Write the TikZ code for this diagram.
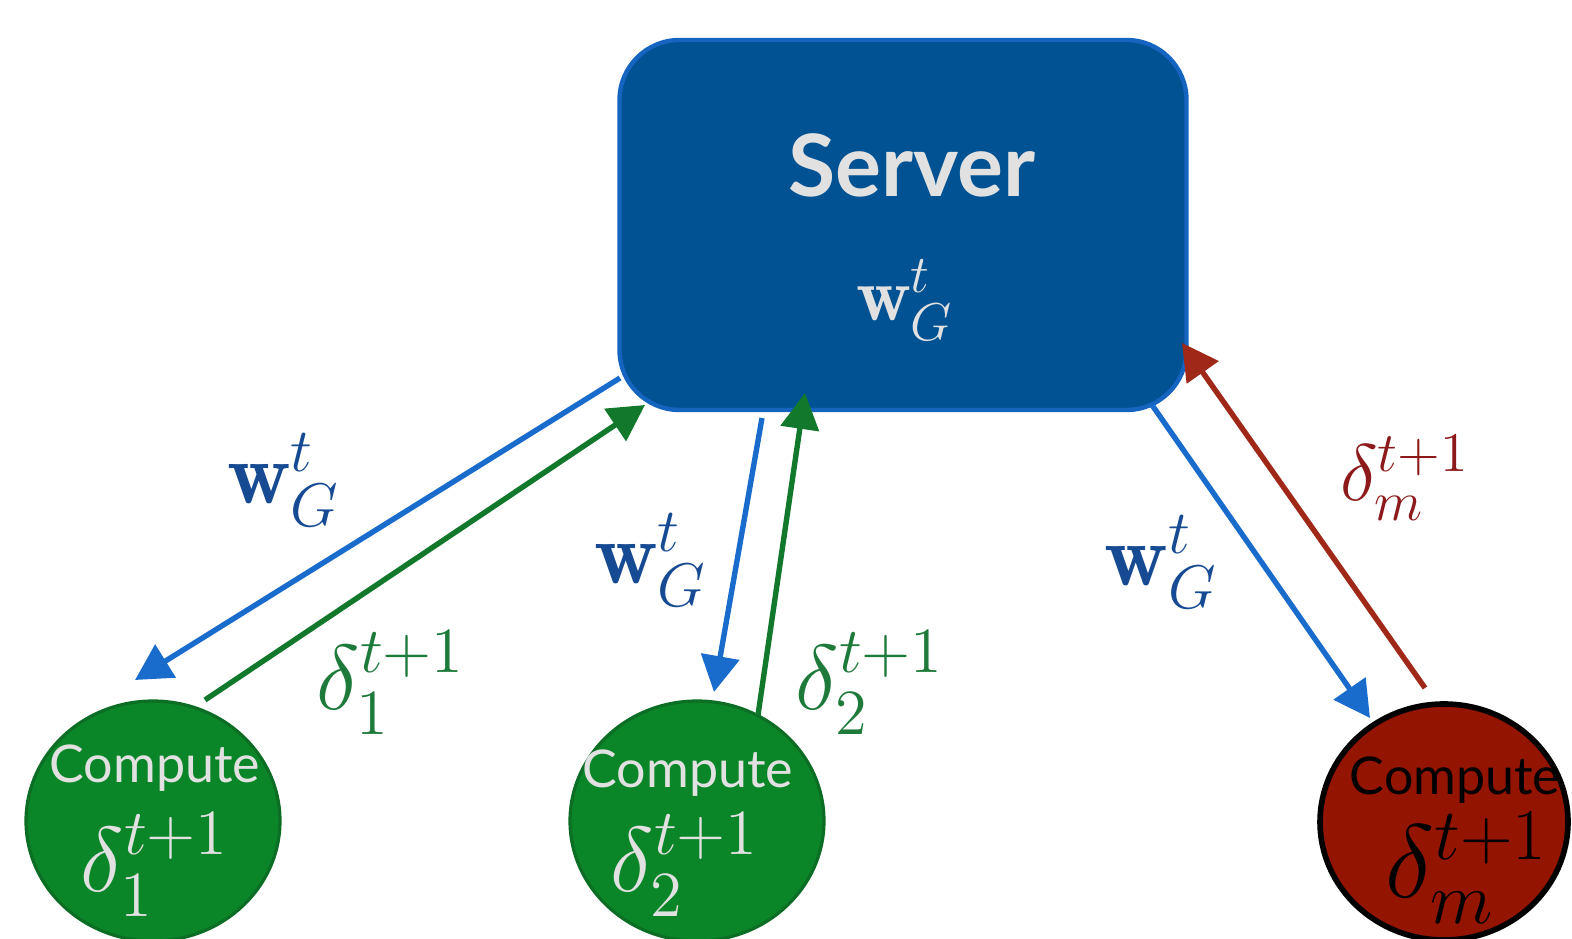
\RequirePackage{fix-cm}
\documentclass[tikz,border=0pt]{standalone}
\usepackage{amsmath,bm}
\usepackage{fontspec}
\setsansfont{Lato}
\usetikzlibrary{arrows.meta,shapes.geometric}
\definecolor{srvfill}{RGB}{1,82,147}
\definecolor{srvline}{RGB}{21,101,192}
\definecolor{arrblue}{RGB}{26,108,204}
\definecolor{lblblue}{RGB}{22,74,146}
\definecolor{grnfill}{RGB}{10,134,40}
\definecolor{grnline}{RGB}{12,110,36}
\definecolor{arrgreen}{RGB}{18,120,44}
\definecolor{lblgreen}{RGB}{30,122,58}
\definecolor{redfill}{RGB}{147,20,0}
\definecolor{arrred}{RGB}{160,40,24}
\definecolor{lblred}{RGB}{140,26,26}
\definecolor{lighttxt}{RGB}{225,225,225}
\begin{document}
\begin{tikzpicture}[x=0.25pt,y=-0.25pt,
  serverbox/.style={draw=srvline,line width=1.1pt,fill=srvfill,rounded corners=15pt,
    minimum width=141.75pt,minimum height=92.5pt,inner sep=0pt},
  greencirc/.style={ellipse,draw=grnline,line width=0.8pt,fill=grnfill,
    minimum width=63.5pt,minimum height=60pt,inner sep=0pt},
  redcirc/.style={ellipse,draw=black,line width=1.4pt,fill=redfill,
    minimum width=62pt,minimum height=59pt,inner sep=0pt},
  conn/.style={line width=1.35pt,-{Triangle[length=9pt,width=9.5pt]}},
  lbl/.style={inner sep=0pt,font=\fontsize{22}{26}\selectfont},
  intxt/.style={inner sep=0pt,text=lighttxt}
]
\useasboundingbox (0,0) rectangle (1572,939);

% nodes
\node[serverbox] (server) at (903,225) {};
\node[greencirc] (c1) at (153,821) {};
\node[greencirc] (c2) at (697,821) {};
\node[redcirc] (c3) at (1444,822) {};

% server text
\node[intxt,font=\sffamily\bfseries\fontsize{21.5}{26}\selectfont] (srvname) at (912,165) {Server};
\node[intxt,font=\fontsize{19}{23}\selectfont] (srvw) at (905,300) {$\mathbf{w}_G^t$};

% circle text
\node[intxt,font=\sffamily\fontsize{13}{15}\selectfont] (c1name) at (155,768) {Compute};
\node[intxt,font=\fontsize{23}{27}\selectfont] (c1d) at (155,865) {$\delta_1^{t+1}$};
\node[intxt,font=\sffamily\fontsize{13}{15}\selectfont] (c2name) at (688,773) {Compute};
\node[intxt,font=\fontsize{23}{27}\selectfont] (c2d) at (685,865) {$\delta_2^{t+1}$};
\node[inner sep=0pt,text=black,font=\sffamily\fontsize{13}{15}\selectfont] (c3name) at (1455,780) {Compute};
\node[inner sep=0pt,text=black,font=\fontsize{26}{30}\selectfont] (c3d) at (1467,868) {$\delta_m^{t+1}$};

% endpoints
\coordinate (b1s) at (620,378);
\coordinate (b1e) at (135,680);
\coordinate (g1s) at (205,700);
\coordinate (g1e) at (645,405);
\coordinate (b2s) at (762,418);
\coordinate (b2e) at (714,692);
\coordinate (g2s) at (758,715);
\coordinate (g2e) at (805,393);
\coordinate (b3s) at (1152,405);
\coordinate (b3e) at (1370,718);
\coordinate (r3s) at (1425,688);
\coordinate (r3e) at (1182,343);

% connectors
\draw[conn,arrblue] (b1s) -- (b1e);
\draw[conn,arrgreen] (g1s) -- (g1e);
\draw[conn,arrblue] (b2s) -- (b2e);
\draw[conn,arrgreen] (g2s) -- (g2e);
\draw[conn,arrblue] (b3s) -- (b3e);
\draw[conn,arrred] (r3s) -- (r3e);

% labels
\node[lbl,text=lblblue] (lw1) at (284,480) {$\mathbf{w}_G^t$};
\node[lbl,text=lblgreen,font=\fontsize{23}{27}\selectfont] (ld1) at (391,683) {$\delta_1^{t+1}$};
\node[lbl,text=lblblue] (lw2) at (651,560) {$\mathbf{w}_G^t$};
\node[lbl,text=lblgreen,font=\fontsize{23}{27}\selectfont] (ld2) at (870,683) {$\delta_2^{t+1}$};
\node[lbl,text=lblblue] (lw3) at (1161,562) {$\mathbf{w}_G^t$};
\node[lbl,text=lblred,font=\fontsize{20}{24}\selectfont] (ld3) at (1405,478) {$\delta_m^{t+1}$};
\end{tikzpicture}
\end{document}
